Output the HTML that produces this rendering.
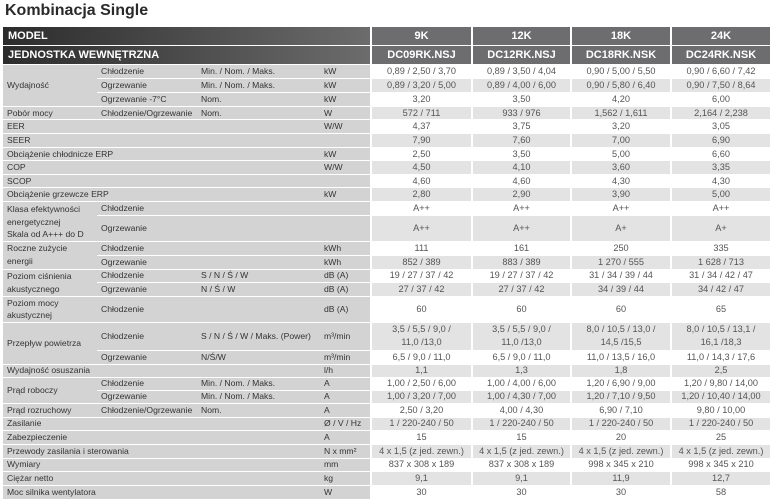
<!DOCTYPE html>
<html><head><meta charset="utf-8"><style>
html,body{margin:0;padding:0;background:#fff;width:774px;height:498px;overflow:hidden}
h1{position:absolute;left:5px;top:2px;margin:0;font:bold 16px "Liberation Sans",sans-serif;color:#2a2a2a}
table{position:absolute;left:3px;top:26px;border-collapse:collapse;table-layout:fixed;font-family:"Liberation Sans",sans-serif}
td{padding:0;border-top:1px solid #fff;overflow:hidden;white-space:nowrap;font-size:8.6px;line-height:11px}
td.l{background:#d3d3d3;color:#333;padding-left:4px}
td.l1{padding-left:4px;font-weight:normal}
td.v{text-align:center;color:#555;border-left:2px solid #fff;font-size:9.2px}
tr.g td.v{background:#e3e3e3}
tr.h td{color:#fff;font-weight:bold;font-size:11px;border-top:1px solid #fff}
tr.h td.hl{background:linear-gradient(to right,#2c2c2c,#6c6c6c);padding-left:5px}
tr.h td.hv{background:#6d6d6f;text-align:center;border-left:2px solid #fff}
</style></head><body>
<h1>Kombinacja Single</h1>
<table>
<colgroup><col style="width:94px"><col style="width:100px"><col style="width:123px"><col style="width:51px"><col style="width:101px"><col style="width:99px"><col style="width:100px"><col style="width:99px"></colgroup>
<tr class="h" style="height:19px"><td class="hl" colspan="4">MODEL</td><td class="hv">9K</td><td class="hv">12K</td><td class="hv">18K</td><td class="hv">24K</td></tr>
<tr class="h" style="height:19px"><td class="hl" colspan="4">JEDNOSTKA WEWNĘTRZNA</td><td class="hv">DC09RK.NSJ</td><td class="hv">DC12RK.NSJ</td><td class="hv">DC18RK.NSK</td><td class="hv">DC24RK.NSK</td></tr>
<tr style="height:14px"><td class="l" rowspan="3">Wydajność</td><td class="l">Chłodzenie</td><td class="l">Min. / Nom. / Maks.</td><td class="l">kW</td><td class="v">0,89 / 2,50 / 3,70</td><td class="v">0,89 / 3,50 / 4,04</td><td class="v">0,90 / 5,00 / 5,50</td><td class="v">0,90 / 6,60 / 7,42</td></tr>
<tr class="g" style="height:14px"><td class="l">Ogrzewanie</td><td class="l">Min. / Nom. / Maks.</td><td class="l">kW</td><td class="v">0,89 / 3,20 / 5,00</td><td class="v">0,89 / 4,00 / 6,00</td><td class="v">0,90 / 5,80 / 6,40</td><td class="v">0,90 / 7,50 / 8,64</td></tr>
<tr style="height:14px"><td class="l">Ogrzewanie -7°C</td><td class="l">Nom.</td><td class="l">kW</td><td class="v">3,20</td><td class="v">3,50</td><td class="v">4,20</td><td class="v">6,00</td></tr>
<tr class="g" style="height:13px"><td class="l">Pobór mocy</td><td class="l">Chłodzenie/Ogrzewanie</td><td class="l">Nom.</td><td class="l">W</td><td class="v">572 / 711</td><td class="v">933 / 976</td><td class="v">1,562 / 1,611</td><td class="v">2,164 / 2,238</td></tr>
<tr style="height:14px"><td class="l" colspan="3">EER</td><td class="l">W/W</td><td class="v">4,37</td><td class="v">3,75</td><td class="v">3,20</td><td class="v">3,05</td></tr>
<tr class="g" style="height:14px"><td class="l" colspan="3">SEER</td><td class="l"></td><td class="v">7,90</td><td class="v">7,60</td><td class="v">7,00</td><td class="v">6,90</td></tr>
<tr style="height:13px"><td class="l" colspan="3">Obciążenie chłodnicze ERP</td><td class="l">kW</td><td class="v">2,50</td><td class="v">3,50</td><td class="v">5,00</td><td class="v">6,60</td></tr>
<tr class="g" style="height:14px"><td class="l" colspan="3">COP</td><td class="l">W/W</td><td class="v">4,50</td><td class="v">4,10</td><td class="v">3,60</td><td class="v">3,35</td></tr>
<tr style="height:13px"><td class="l" colspan="3">SCOP</td><td class="l"></td><td class="v">4,60</td><td class="v">4,60</td><td class="v">4,30</td><td class="v">4,30</td></tr>
<tr class="g" style="height:14px"><td class="l" colspan="3">Obciążenie grzewcze ERP</td><td class="l">kW</td><td class="v">2,80</td><td class="v">2,90</td><td class="v">3,90</td><td class="v">5,00</td></tr>
<tr style="height:14px"><td class="l" rowspan="2" style="vertical-align:top;line-height:12.5px;padding-top:1px">Klasa efektywności<br>energetycznej<br>Skala od A+++ do D</td><td class="l">Chłodzenie</td><td class="l"></td><td class="l"></td><td class="v">A++</td><td class="v">A++</td><td class="v">A++</td><td class="v">A++</td></tr>
<tr class="g" style="height:25px"><td class="l">Ogrzewanie</td><td class="l"></td><td class="l"></td><td class="v">A++</td><td class="v">A++</td><td class="v">A+</td><td class="v">A+</td></tr>
<tr style="height:14px"><td class="l" rowspan="2" style="line-height:13px">Roczne zużycie<br>energii</td><td class="l">Chłodzenie</td><td class="l"></td><td class="l">kWh</td><td class="v">111</td><td class="v">161</td><td class="v">250</td><td class="v">335</td></tr>
<tr class="g" style="height:14px"><td class="l">Ogrzewanie</td><td class="l"></td><td class="l">kWh</td><td class="v">852 / 389</td><td class="v">883 / 389</td><td class="v">1 270 / 555</td><td class="v">1 628 / 713</td></tr>
<tr style="height:13px"><td class="l" rowspan="2" style="line-height:13px">Poziom ciśnienia<br>akustycznego</td><td class="l">Chłodzenie</td><td class="l">S / N / Ś / W</td><td class="l">dB (A)</td><td class="v">19 / 27 / 37 / 42</td><td class="v">19 / 27 / 37 / 42</td><td class="v">31 / 34 / 39 / 44</td><td class="v">31 / 34 / 42 / 47</td></tr>
<tr class="g" style="height:14px"><td class="l">Ogrzewanie</td><td class="l">N / Ś / W</td><td class="l">dB (A)</td><td class="v">27 / 37 / 42</td><td class="v">27 / 37 / 42</td><td class="v">34 / 39 / 44</td><td class="v">34 / 42 / 47</td></tr>
<tr style="height:25px"><td class="l" style="line-height:12.5px">Poziom mocy<br>akustycznej</td><td class="l">Chłodzenie</td><td class="l"></td><td class="l">dB (A)</td><td class="v">60</td><td class="v">60</td><td class="v">60</td><td class="v">65</td></tr>
<tr class="g" style="height:28px"><td class="l" rowspan="2">Przepływ powietrza</td><td class="l">Chłodzenie</td><td class="l">S / N / Ś / W / Maks. (Power)</td><td class="l">m³/min</td><td class="v" style="line-height:13px">3,5 / 5,5 / 9,0 /<br>11,0 /13,0</td><td class="v" style="line-height:13px">3,5 / 5,5 / 9,0 /<br>11,0 /13,0</td><td class="v" style="line-height:13px">8,0 / 10,5 / 13,0 /<br>14,5 /15,5</td><td class="v" style="line-height:13px">8,0 / 10,5 / 13,1 /<br>16,1 /18,3</td></tr>
<tr style="height:14px"><td class="l">Ogrzewanie</td><td class="l">N/Ś/W</td><td class="l">m³/min</td><td class="v">6,5 / 9,0 / 11,0</td><td class="v">6,5 / 9,0 / 11,0</td><td class="v">11,0 / 13,5 / 16,0</td><td class="v">11,0 / 14,3 / 17,6</td></tr>
<tr class="g" style="height:13px"><td class="l" colspan="3">Wydajność osuszania</td><td class="l">l/h</td><td class="v">1,1</td><td class="v">1,3</td><td class="v">1,8</td><td class="v">2,5</td></tr>
<tr style="height:13px"><td class="l" rowspan="2">Prąd roboczy</td><td class="l">Chłodzenie</td><td class="l">Min. / Nom. / Maks.</td><td class="l">A</td><td class="v">1,00 / 2,50 / 6,00</td><td class="v">1,00 / 4,00 / 6,00</td><td class="v">1,20 / 6,90 / 9,00</td><td class="v">1,20 / 9,80 / 14,00</td></tr>
<tr class="g" style="height:13px"><td class="l">Ogrzewanie</td><td class="l">Min. / Nom. / Maks.</td><td class="l">A</td><td class="v">1,00 / 3,20 / 7,00</td><td class="v">1,00 / 4,30 / 7,00</td><td class="v">1,20 / 7,10 / 9,50</td><td class="v">1,20 / 10,40 / 14,00</td></tr>
<tr style="height:14px"><td class="l">Prąd rozruchowy</td><td class="l">Chłodzenie/Ogrzewanie</td><td class="l">Nom.</td><td class="l">A</td><td class="v">2,50 / 3,20</td><td class="v">4,00 / 4,30</td><td class="v">6,90 / 7,10</td><td class="v">9,80 / 10,00</td></tr>
<tr class="g" style="height:13px"><td class="l" colspan="3">Zasilanie</td><td class="l">Ø / V / Hz</td><td class="v">1 / 220-240 / 50</td><td class="v">1 / 220-240 / 50</td><td class="v">1 / 220-240 / 50</td><td class="v">1 / 220-240 / 50</td></tr>
<tr style="height:14px"><td class="l" colspan="3">Zabezpieczenie</td><td class="l">A</td><td class="v">15</td><td class="v">15</td><td class="v">20</td><td class="v">25</td></tr>
<tr class="g" style="height:14px"><td class="l" colspan="3">Przewody zasilania i sterowania</td><td class="l">N x mm²</td><td class="v">4 x 1,5 (z jed. zewn.)</td><td class="v">4 x 1,5 (z jed. zewn.)</td><td class="v">4 x 1,5 (z jed. zewn.)</td><td class="v">4 x 1,5 (z jed. zewn.)</td></tr>
<tr style="height:13px"><td class="l" colspan="3">Wymiary</td><td class="l">mm</td><td class="v">837 x 308 x 189</td><td class="v">837 x 308 x 189</td><td class="v">998 x 345 x 210</td><td class="v">998 x 345 x 210</td></tr>
<tr class="g" style="height:14px"><td class="l" colspan="3">Ciężar netto</td><td class="l">kg</td><td class="v">9,1</td><td class="v">9,1</td><td class="v">11,9</td><td class="v">12,7</td></tr>
<tr style="height:14px"><td class="l" colspan="3">Moc silnika wentylatora</td><td class="l">W</td><td class="v">30</td><td class="v">30</td><td class="v">30</td><td class="v">58</td></tr>
</table>
</body></html>
